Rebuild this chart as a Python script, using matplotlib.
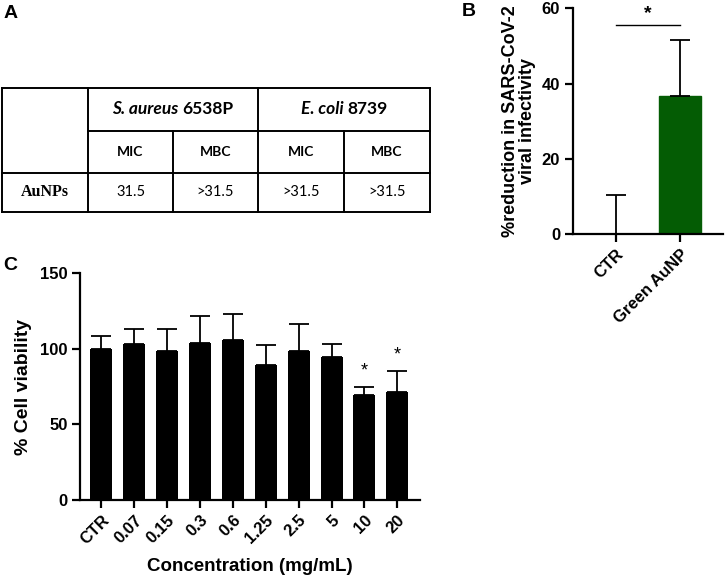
import matplotlib
matplotlib.use("Agg")
import matplotlib.pyplot as plt
import numpy as np

# ---- data ----
conc_labels = ["CTR", "0.07", "0.15", "0.3", "0.6", "1.25", "2.5", "5", "10", "20"]
viability = [100, 103.3, 98.7, 104, 106.2, 89.1, 98.4, 94.9, 69.2, 71.5]
viability_err = [8.8, 10.2, 14.3, 18, 16.8, 13.5, 17.9, 8.4, 5.6, 13.9]
viability_sig = ["", "", "", "", "", "", "", "", "*", "*"]

virus_labels = ["CTR", "Green AuNP"]
virus_reduction = [0, 36.6]
virus_err = [10.4, 14.9]

table_species = [("S. aureus", "6538P"), ("E. coli", "8739")]
table_sub = ["MIC", "MBC", "MIC", "MBC"]
table_row = "AuNPs"
table_vals = ["31.5", ">31.5", ">31.5", ">31.5"]

plt.rcParams['font.family'] = ['Liberation Sans', 'DejaVu Sans']
W, H = 726, 586
fig = plt.figure(figsize=(W / 100, H / 100), dpi=100)
renderer = fig.canvas.get_renderer()

def style_axes(ax, labelsize):
    for s in ['top', 'right']:
        ax.spines[s].set_visible(False)
    for s in ['left', 'bottom']:
        ax.spines[s].set_linewidth(1.6)
    ax.tick_params(width=1.6, length=6, labelsize=labelsize, pad=3)
    for lab in ax.get_yticklabels() + ax.get_xticklabels():
        lab.set_fontweight('bold')

# ---- Panel A: table ----
axT = fig.add_axes([0, 0, 1, 1])
axT.set_xlim(0, W)
axT.set_ylim(H, 0)
axT.axis('off')
x0, x1, x2, x3, x4, x5 = 2, 88, 173, 258, 344, 430
y0, y1, y2, y3 = 88, 131, 173, 212
lw = 1.4
axT.plot([x0, x5], [y0, y0], color='black', lw=lw)
axT.plot([x0, x5], [y3, y3], color='black', lw=lw)
axT.plot([x1, x5], [y1, y1], color='black', lw=lw)
axT.plot([x0, x5], [y2, y2], color='black', lw=lw)
for x in [x0, x1, x3, x5]:
    axT.plot([x, x], [y0, y3], color='black', lw=lw)
for x in [x2, x4]:
    axT.plot([x, x], [y1, y3], color='black', lw=lw)

tfont = ['Lato', 'DejaVu Sans']

def header(xc, yc, ital, rest):
    t1 = axT.text(0, yc, ital + " ", fontsize=12.5, fontstyle='italic',
                  fontweight='bold', family=tfont, ha='left', va='center')
    t2 = axT.text(0, yc, rest, fontsize=12.5, fontweight='bold',
                  family=tfont, ha='left', va='center')
    w1 = t1.get_window_extent(renderer).width
    w2 = t2.get_window_extent(renderer).width
    start = xc - (w1 + w2) / 2
    t1.set_x(start)
    t2.set_x(start + w1)

header((x1 + x3) / 2, (y0 + y1) / 2, *table_species[0])
header((x3 + x5) / 2, (y0 + y1) / 2, *table_species[1])
cols = [(x1 + x2) / 2, (x2 + x3) / 2, (x3 + x4) / 2, (x4 + x5) / 2]
for xc, s in zip(cols, table_sub):
    axT.text(xc, (y1 + y2) / 2, s, fontsize=10, fontweight='bold', family=tfont,
             ha='center', va='center')
for xc, s in zip(cols, table_vals):
    axT.text(xc, (y2 + y3) / 2, s, fontsize=10.5, family=tfont,
             ha='center', va='center')
axT.text((x0 + x1) / 2, (y2 + y3) / 2, table_row, fontsize=11.5, fontweight='bold',
         family=['Liberation Serif', 'DejaVu Serif'], ha='center', va='center')

# panel letters
axT.text(11, 13, "A", fontsize=14, fontweight='bold', va='center', ha='center')
axT.text(469, 11, "B", fontsize=14, fontweight='bold', va='center', ha='center')
axT.text(10, 265, "C", fontsize=14, fontweight='bold', va='center', ha='center')

# ---- Panel B ----
axB = fig.add_axes([572.7 / W, 1 - 234 / H, (723 - 572.7) / W, (234 - 8.3) / H])
xb = np.arange(len(virus_labels))
axB.bar(xb, virus_reduction, width=0.66, color='#045c04', edgecolor='#045c04')
axB.errorbar(xb, virus_reduction, yerr=[np.zeros(len(xb)), virus_err], fmt='none',
             ecolor='black', elinewidth=1.3, capsize=7.5, capthick=1.3)
axB.set_xlim(-0.67, 1.67)
axB.set_ylim(0, 60)
axB.set_yticks([0, 20, 40, 60])
axB.set_xticks(xb)
axB.set_xticklabels(virus_labels, rotation=45, ha='right', rotation_mode='anchor')
axB.set_ylabel("%reduction in SARS-CoV-2\nviral infectivity", fontsize=13,
               fontweight='bold', labelpad=4, linespacing=1.05)
style_axes(axB, 12)
axB.plot([0, 1], [55.5, 55.5], color='black', lw=1.0, clip_on=False)
axB.text(0.5, 56.3, "*", ha='center', va='bottom', fontsize=14, fontweight='bold')

# ---- Panel C ----
axC = fig.add_axes([80 / W, 1 - 500 / H, (420 - 80) / W, (500 - 273.4) / H])
xc = np.arange(len(conc_labels))
axC.bar(xc, viability, width=0.67, color='black')
axC.errorbar(xc, viability, yerr=[np.zeros(len(xc)), viability_err], fmt='none',
             ecolor='black', elinewidth=1.3, capsize=7, capthick=1.3)
axC.set_xlim(-0.65, 9.69)
axC.set_ylim(0, 150)
axC.set_yticks([0, 50, 100, 150])
axC.set_xticks(xc)
axC.set_xticklabels(conc_labels, rotation=45, ha='right', rotation_mode='anchor')
axC.set_ylabel("% Cell viability", fontsize=14, fontweight='bold', labelpad=6)
axC.set_xlabel("Concentration (mg/mL)", fontsize=13.5, fontweight='bold', labelpad=8)
style_axes(axC, 12)
for i, s in enumerate(viability_sig):
    if s:
        axC.text(i, viability[i] + viability_err[i] + 5, s, ha='center', va='bottom',
                 fontsize=13)

fig.savefig("out.png", dpi=100)
